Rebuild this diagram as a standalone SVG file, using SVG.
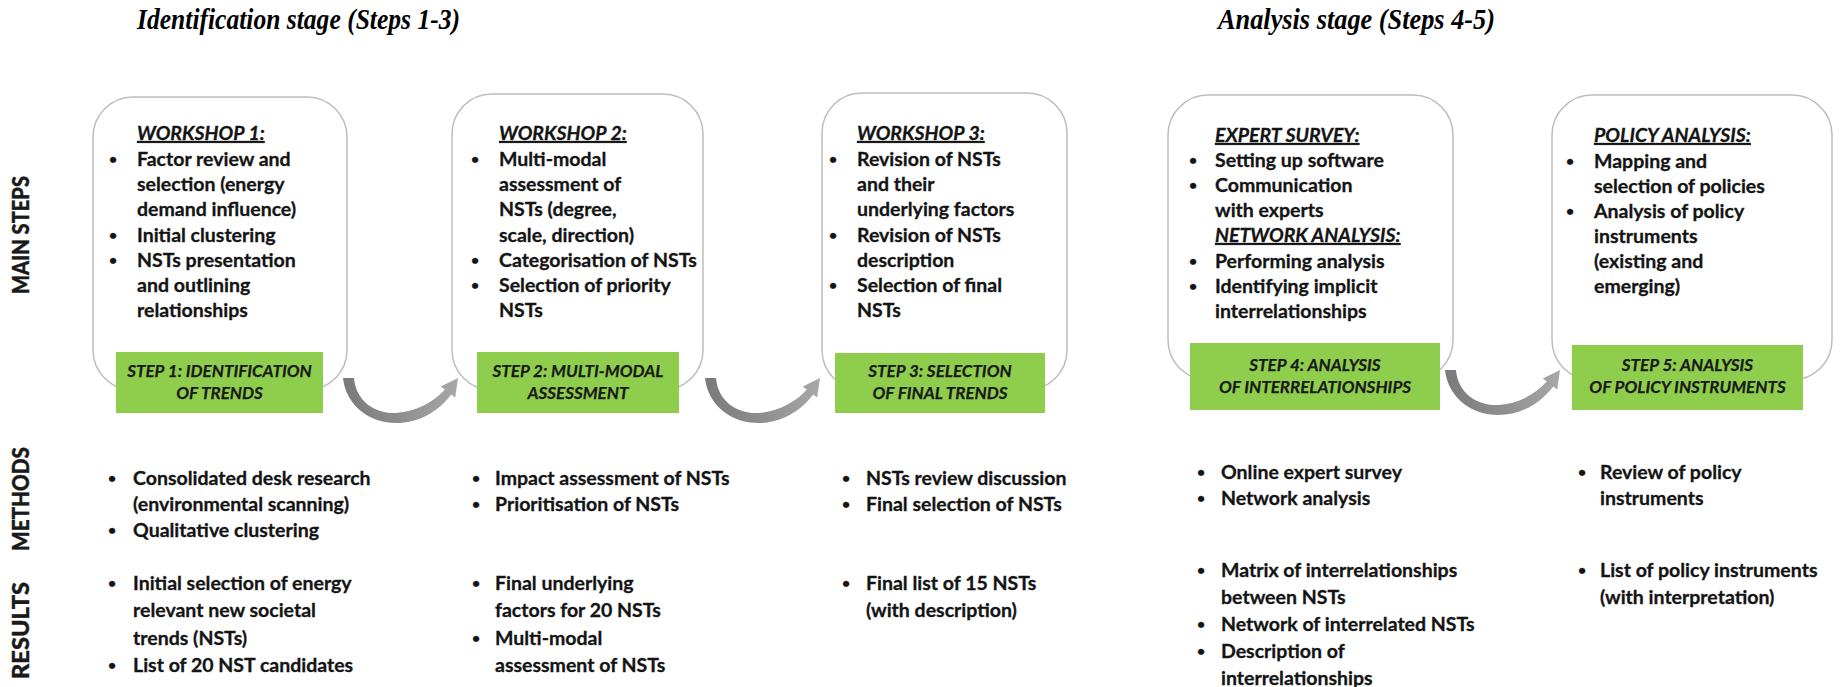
<svg xmlns="http://www.w3.org/2000/svg" width="1841" height="687" viewBox="0 0 1841 687">
  <style>
    .t { font-family: Lato, "Liberation Sans", sans-serif; font-weight: 700; font-size: 19.5px; fill: #141414; stroke: #141414; stroke-width: 0.3px; }
    .b { font-size: 14px; }
    .h { font-style: italic; text-decoration: underline; }
    .g { font-family: Lato, "Liberation Sans", sans-serif; font-weight: 700; font-style: italic; font-size: 17px; fill: #1a1a1a; stroke: #1a1a1a; stroke-width: 0.25px; text-anchor: middle; }
    .lab { font-family: Lato, "Liberation Sans", sans-serif; font-weight: 900; font-size: 23px; fill: #1a1a1a; stroke: #1a1a1a; stroke-width: 0.4px; }
    .title { font-family: "Liberation Serif", serif; font-weight: 700; font-style: italic; font-size: 29px; fill: #000; }
    .box { fill: #fff; stroke: #bdbdbd; stroke-width: 1.5; }
    .step { fill: #8fcd4d; }
    .arrow { fill: url(#arrowGrad); }
  </style>
  <defs>
    <linearGradient id="arrowGrad" x1="0" y1="0" x2="1" y2="0">
      <stop offset="0" stop-color="#7a7a7a"/>
      <stop offset="0.5" stop-color="#8e8e8e"/>
      <stop offset="1" stop-color="#a8a8a8"/>
    </linearGradient>
    <!-- curved U-turn arrow, drawn at the first gap -->
    <path id="curveArrow" d="M 343 378 L 354 378 C 356 402, 376 414, 396 413 C 416 412, 434 402, 444.8 389.6 L 440.8 386.6 L 458 378 L 455.2 397.4 L 451.2 394.4 C 438 412, 418 423, 396 423 C 370 423, 346 406, 343 378 Z"/>
  </defs>

  <rect width="1841" height="687" fill="#fff"/>

  <!-- stage titles -->
  <text class="title" x="137" y="29" textLength="323" lengthAdjust="spacingAndGlyphs">Identification stage (Steps 1-3)</text>
  <text class="title" x="1218" y="29" textLength="277" lengthAdjust="spacingAndGlyphs">Analysis stage (Steps 4-5)</text>

  <!-- row labels -->
  <text class="lab" transform="translate(29,294) rotate(-90)" textLength="118" lengthAdjust="spacingAndGlyphs">MAIN STEPS</text>
  <text class="lab" transform="translate(29,551) rotate(-90)" textLength="104" lengthAdjust="spacingAndGlyphs">METHODS</text>
  <text class="lab" transform="translate(29,679) rotate(-90)" textLength="97" lengthAdjust="spacingAndGlyphs">RESULTS</text>

  <!-- connectors -->
  <g id="connectors">
    <use href="#curveArrow" class="arrow"/>
    <use href="#curveArrow" class="arrow" transform="translate(362,0)"/>
    <use href="#curveArrow" class="arrow" transform="translate(1102,-8)"/>
  </g>

  <!-- step 1 -->
  <g id="step1">
    <rect class="box" x="93" y="97" width="254" height="293" rx="40"/>
    <text class="t h" x="137" y="140">WORKSHOP 1:</text>
    <text class="t b"><tspan x="109" y="164">•</tspan><tspan x="109" y="240">•</tspan><tspan x="109" y="265">•</tspan></text>
    <text class="t">
      <tspan x="137" y="166">Factor review and</tspan>
      <tspan x="137" y="191">selection (energy</tspan>
      <tspan x="137" y="216">demand influence)</tspan>
      <tspan x="137" y="242">Initial clustering</tspan>
      <tspan x="137" y="267">NSTs presentation</tspan>
      <tspan x="137" y="292">and outlining</tspan>
      <tspan x="137" y="317">relationships</tspan>
    </text>
    <rect class="step" x="116" y="352" width="207" height="61"/>
    <text class="g"><tspan x="219.5" y="377">STEP 1: IDENTIFICATION</tspan><tspan x="219.5" y="399">OF TRENDS</tspan></text>
  </g>

  <!-- step 2 -->
  <g id="step2">
    <rect class="box" x="452" y="94" width="251" height="296" rx="40"/>
    <text class="t h" x="499" y="140">WORKSHOP 2:</text>
    <text class="t b"><tspan x="471" y="164">•</tspan><tspan x="471" y="265">•</tspan><tspan x="471" y="290">•</tspan></text>
    <text class="t">
      <tspan x="499" y="166">Multi-modal</tspan>
      <tspan x="499" y="191">assessment of</tspan>
      <tspan x="499" y="216">NSTs (degree,</tspan>
      <tspan x="499" y="242">scale, direction)</tspan>
      <tspan x="499" y="267">Categorisation of NSTs</tspan>
      <tspan x="499" y="292">Selection of priority</tspan>
      <tspan x="499" y="317">NSTs</tspan>
    </text>
    <rect class="step" x="477" y="352" width="202" height="61"/>
    <text class="g"><tspan x="578" y="377">STEP 2: MULTI-MODAL</tspan><tspan x="578" y="399">ASSESSMENT</tspan></text>
  </g>

  <!-- step 3 -->
  <g id="step3">
    <rect class="box" x="822" y="93" width="245" height="297" rx="40"/>
    <text class="t h" x="857" y="140">WORKSHOP 3:</text>
    <text class="t b"><tspan x="829" y="164">•</tspan><tspan x="829" y="240">•</tspan><tspan x="829" y="290">•</tspan></text>
    <text class="t">
      <tspan x="857" y="166">Revision of NSTs</tspan>
      <tspan x="857" y="191">and their</tspan>
      <tspan x="857" y="216">underlying factors</tspan>
      <tspan x="857" y="242">Revision of NSTs</tspan>
      <tspan x="857" y="267">description</tspan>
      <tspan x="857" y="292">Selection of final</tspan>
      <tspan x="857" y="317">NSTs</tspan>
    </text>
    <rect class="step" x="835" y="353" width="210" height="60"/>
    <text class="g"><tspan x="940" y="377">STEP 3: SELECTION</tspan><tspan x="940" y="399">OF FINAL TRENDS</tspan></text>
  </g>

  <!-- step 4 -->
  <g id="step4">
    <rect class="box" x="1168" y="95" width="285" height="285" rx="40"/>
    <text class="t h" x="1215" y="142">EXPERT SURVEY:</text>
    <text class="t b"><tspan x="1189" y="165">•</tspan><tspan x="1189" y="190">•</tspan><tspan x="1189" y="266">•</tspan><tspan x="1189" y="291">•</tspan></text>
    <text class="t">
      <tspan x="1215" y="167">Setting up software</tspan>
      <tspan x="1215" y="192">Communication</tspan>
      <tspan x="1215" y="217">with experts</tspan>
    </text>
    <text class="t h" x="1215" y="242">NETWORK ANALYSIS:</text>
    <text class="t">
      <tspan x="1215" y="268">Performing analysis</tspan>
      <tspan x="1215" y="293">Identifying implicit</tspan>
      <tspan x="1215" y="318">interrelationships</tspan>
    </text>
    <rect class="step" x="1190" y="343" width="250" height="67"/>
    <text class="g"><tspan x="1315" y="371">STEP 4: ANALYSIS</tspan><tspan x="1315" y="393">OF INTERRELATIONSHIPS</tspan></text>
  </g>

  <!-- step 5 -->
  <g id="step5">
    <rect class="box" x="1552" y="95" width="280" height="285" rx="40"/>
    <text class="t h" x="1594" y="142">POLICY ANALYSIS:</text>
    <text class="t b"><tspan x="1566" y="166">•</tspan><tspan x="1566" y="216">•</tspan></text>
    <text class="t">
      <tspan x="1594" y="168">Mapping and</tspan>
      <tspan x="1594" y="193">selection of policies</tspan>
      <tspan x="1594" y="218">Analysis of policy</tspan>
      <tspan x="1594" y="243">instruments</tspan>
      <tspan x="1594" y="268">(existing and</tspan>
      <tspan x="1594" y="293">emerging)</tspan>
    </text>
    <rect class="step" x="1572" y="345" width="231" height="65"/>
    <text class="g"><tspan x="1687.5" y="371">STEP 5: ANALYSIS</tspan><tspan x="1687.5" y="393">OF POLICY INSTRUMENTS</tspan></text>
  </g>

  <!-- methods row -->
  <g id="methods">
    <text class="t b"><tspan x="108" y="483">•</tspan><tspan x="108" y="535">•</tspan></text>
    <text class="t">
      <tspan x="133" y="485">Consolidated desk research</tspan>
      <tspan x="133" y="511">(environmental scanning)</tspan>
      <tspan x="133" y="537">Qualitative clustering</tspan>
    </text>
    <text class="t b"><tspan x="472" y="483">•</tspan><tspan x="472" y="509">•</tspan></text>
    <text class="t">
      <tspan x="495" y="485">Impact assessment of NSTs</tspan>
      <tspan x="495" y="511">Prioritisation of NSTs</tspan>
    </text>
    <text class="t b"><tspan x="842" y="483">•</tspan><tspan x="842" y="509">•</tspan></text>
    <text class="t">
      <tspan x="866" y="485">NSTs review discussion</tspan>
      <tspan x="866" y="511">Final selection of NSTs</tspan>
    </text>
    <text class="t b"><tspan x="1197" y="477">•</tspan><tspan x="1197" y="503">•</tspan></text>
    <text class="t">
      <tspan x="1221" y="479">Online expert survey</tspan>
      <tspan x="1221" y="505">Network analysis</tspan>
    </text>
    <text class="t b"><tspan x="1578" y="477">•</tspan></text>
    <text class="t">
      <tspan x="1600" y="479">Review of policy</tspan>
      <tspan x="1600" y="505">instruments</tspan>
    </text>
  </g>

  <!-- results row -->
  <g id="results">
    <text class="t b"><tspan x="108" y="588">•</tspan><tspan x="108" y="670">•</tspan></text>
    <text class="t">
      <tspan x="133" y="590">Initial selection of energy</tspan>
      <tspan x="133" y="617">relevant new societal</tspan>
      <tspan x="133" y="645">trends (NSTs)</tspan>
      <tspan x="133" y="672">List of 20 NST candidates</tspan>
    </text>
    <text class="t b"><tspan x="472" y="588">•</tspan><tspan x="472" y="643">•</tspan></text>
    <text class="t">
      <tspan x="495" y="590">Final underlying</tspan>
      <tspan x="495" y="617">factors for 20 NSTs</tspan>
      <tspan x="495" y="645">Multi-modal</tspan>
      <tspan x="495" y="672">assessment of NSTs</tspan>
    </text>
    <text class="t b"><tspan x="842" y="588">•</tspan></text>
    <text class="t">
      <tspan x="866" y="590">Final list of 15 NSTs</tspan>
      <tspan x="866" y="617">(with description)</tspan>
    </text>
    <text class="t b"><tspan x="1197" y="575">•</tspan><tspan x="1197" y="629">•</tspan><tspan x="1197" y="656">•</tspan></text>
    <text class="t">
      <tspan x="1221" y="577">Matrix of interrelationships</tspan>
      <tspan x="1221" y="604">between NSTs</tspan>
      <tspan x="1221" y="631">Network of interrelated NSTs</tspan>
      <tspan x="1221" y="658">Description of</tspan>
      <tspan x="1221" y="685">interrelationships</tspan>
    </text>
    <text class="t b"><tspan x="1578" y="575">•</tspan></text>
    <text class="t">
      <tspan x="1600" y="577">List of policy instruments</tspan>
      <tspan x="1600" y="604">(with interpretation)</tspan>
    </text>
  </g>
</svg>
